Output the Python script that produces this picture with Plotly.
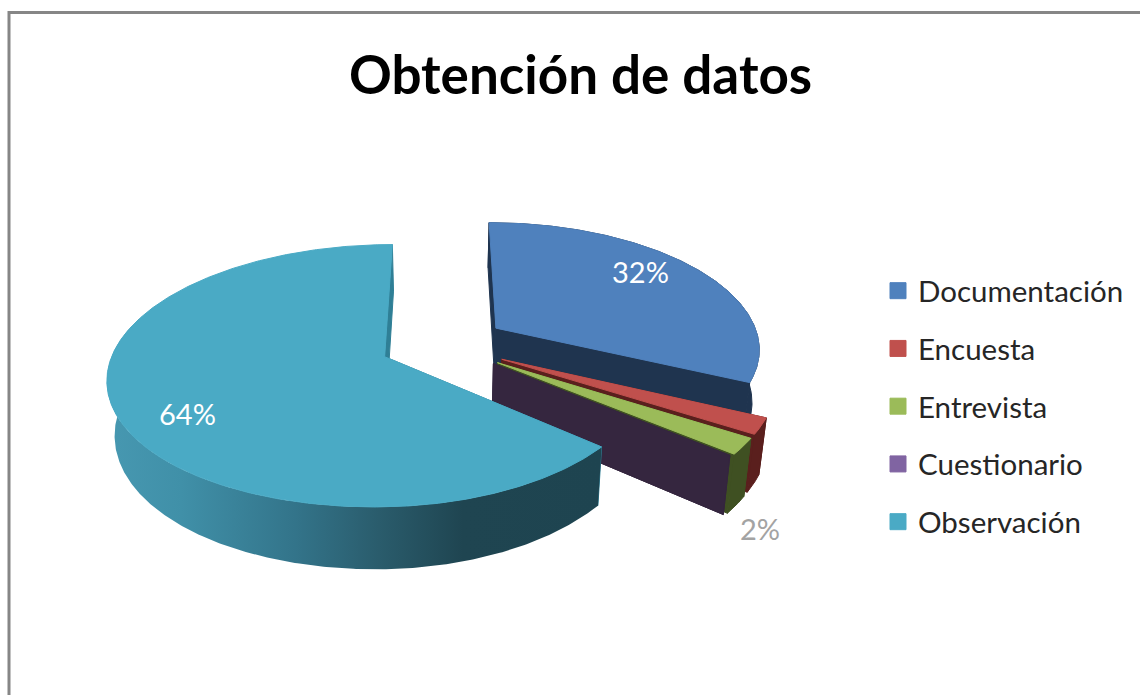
import numpy as np
import plotly.graph_objects as go

# --- data ---
categories = ["Documentación", "Encuesta", "Entrevista", "Cuestionario", "Observación"]
values = [32, 2, 2, 0, 64]
shown_labels = {"Documentación": (640, 271, "#ffffff"),
                "Entrevista": (760, 528, "#a3a3a3"),
                "Observación": (187, 413, "#ffffff")}
title_text = "Obtención de datos"

# --- styles ---
top_colors = ["#4f81bd", "#c0504d", "#9bbb59", "#8064a2", "#4aaac5"]
wall_colors = ["#1f344f", "#5a1f1d", "#3f5022", "#35263f", "#1e4450"]
FONT = "Lato"

# --- 3D pie geometry (projected by hand, since Plotly pies are flat) ---
CX, CY, R = 443.0, 344.0, 273.0
explode = [66, 68, 68, 66, 64.5]
K, PY, PX, H, BOTTOM_X = 0.457, 0.143, 0.15, 52.5, 0.977
EAST, WEST, OBS_EAST = 0.968, 0.985, 0.97
WIN_W, WIN_H = 1140, 695
rim_stops = [(0.0, "#4798b1"), (0.15, "#4090a8"), (0.38, "#33748a"),
             (0.55, "#2a5c6c"), (0.72, "#1f4551"), (1.0, "#1e4450")]


def project(wx, wy, down=False):
    wx, wy = np.asarray(wx, float), np.asarray(wy, float)
    sy = 1 / (1 + PY * wy / R)
    sx = 1 / (1 + PX * wy / R)
    px = np.where(wx > 0, wx * EAST, wx * WEST) * sx
    py = CY - K * wy * sy
    if down:
        px = px * BOTTOM_X
        py = py + H * sy
    return CX + px, py


def polar(theta_deg, r=R):
    t = np.radians(theta_deg)
    return r * np.sin(t), r * np.cos(t)


def polygon(xs, ys, color, width=1, **kw):
    return go.Scatter(x=list(xs), y=list(ys), mode="lines", fill="toself",
                      fillcolor=color, line=dict(color=color, width=width),
                      hoverinfo="skip", showlegend=False, **kw)


total = sum(values)
edges = np.concatenate([[0], np.cumsum(values)]) * 360.0 / total

fig = go.Figure()

for i, cat in enumerate(categories):
    is_obs = cat == "Observación"
    a0, a1 = edges[i], edges[i + 1]
    mid = (a0 + a1) / 2
    ox, oy = polar(mid, explode[i])
    th = np.linspace(a0, a1, max(2, int(a1 - a0) * 2 + 2))
    wx, wy = polar(th)
    if is_obs:
        wx = np.where(wx > 0, wx * OBS_EAST, wx)
    wx, wy = wx + ox, wy + oy

    # walls: start face, end face
    for edge_idx in (0, -1):
        tx, ty = project([ox, wx[edge_idx]], [oy, wy[edge_idx]])
        bx, by = project([ox, wx[edge_idx]], [oy, wy[edge_idx]], down=True)
        col = "#2f7f96" if is_obs else wall_colors[i]
        fig.add_trace(polygon([tx[0], tx[1], bx[1], bx[0], tx[0]],
                              [ty[0], ty[1], by[1], by[0], ty[0]], col))

    # outer rim
    if a1 > a0:
        keep = th < 285 if is_obs else np.ones_like(th, bool)
        tx, ty = project(wx[keep], wy[keep])
        bx, by = project(wx[keep], wy[keep], down=True)
        rx, ry = np.r_[tx, bx[::-1], tx[0]], np.r_[ty, by[::-1], ty[0]]
        if is_obs:
            fig.add_trace(go.Scatter(
                x=list(rx), y=list(ry), mode="lines", fill="toself", line=dict(width=0),
                fillgradient=dict(type="horizontal", colorscale=[[s, c] for s, c in rim_stops]),
                hoverinfo="skip", showlegend=False))
        else:
            fig.add_trace(polygon(rx, ry, wall_colors[i]))

        # top face
        tx, ty = project(np.r_[ox, wx, ox], np.r_[oy, wy, oy])
        fig.add_trace(polygon(tx, ty, top_colors[i]))

# legend entries
for cat, col in zip(categories, top_colors):
    fig.add_trace(go.Scatter(x=[None], y=[None], mode="markers", name=cat, legendgroup=cat,
                             marker=dict(symbol="square", size=16, color=col,
                                         line=dict(color=col, width=1)),
                             hoverinfo="skip"))

# percentage labels
annotations = [dict(x=580.5, y=73, xref="x", yref="y", text=f"<b>{title_text}</b>", showarrow=False,
                    font=dict(family=FONT, size=53, color="#000000"))]
for cat, val in zip(categories, values):
    if cat in shown_labels:
        lx, ly, lc = shown_labels[cat]
        annotations.append(dict(x=lx, y=ly, xref="x", yref="y", text=f"{val}%", showarrow=False,
                                font=dict(family=FONT, size=29, color=lc)))

fig.update_layout(
    width=WIN_W, height=WIN_H, margin=dict(l=0, r=0, t=0, b=0),
    paper_bgcolor="#ffffff", plot_bgcolor="#ffffff",
    xaxis=dict(range=[0, WIN_W], visible=False, fixedrange=True),
    yaxis=dict(range=[WIN_H, 0], visible=False, fixedrange=True),
    annotations=annotations,
    legend=dict(x=878 / WIN_W, y=1 - 265 / WIN_H,
                xanchor="left", yanchor="top",
                font=dict(family=FONT, size=29.5, color="#262626"),
                bgcolor="rgba(0,0,0,0)", tracegroupgap=16.4, itemsizing="trace"),
    shapes=[
        dict(type="line", xref="x", yref="y", x0=9, x1=WIN_W, y0=12.5, y1=12.5,
             line=dict(color="#868686", width=3)),
        dict(type="line", xref="x", yref="y", x0=9, x1=9, y0=11, y1=WIN_H,
             line=dict(color="#868686", width=3)),
    ],
)

fig.write_html("out.html", config={"displayModeBar": False},
               post_script="document.body.style.margin='0';document.body.style.overflow='hidden';")
